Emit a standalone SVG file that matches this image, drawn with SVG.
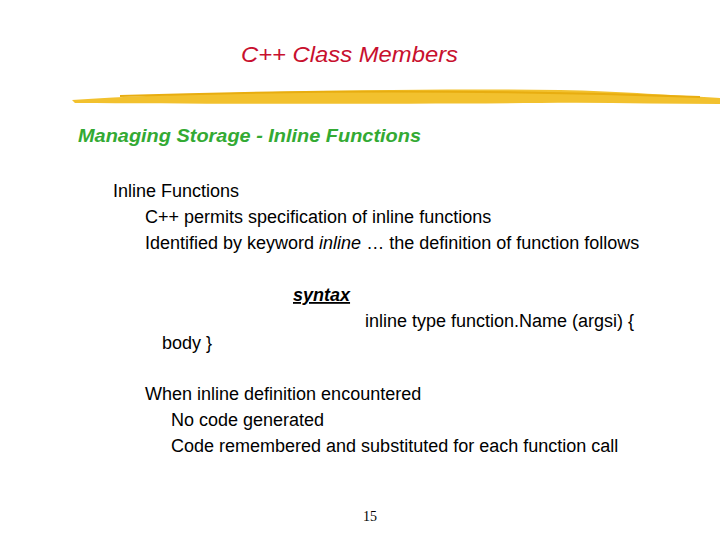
<svg xmlns="http://www.w3.org/2000/svg" width="720" height="540" viewBox="0 0 720 540">
<style>
.b{font-family:"Liberation Sans",Arial,sans-serif;font-size:18px;fill:#000}
</style>
<rect width="720" height="540" fill="#fff"/>
<text x="241" y="62" font-family="Liberation Sans,Arial,sans-serif" font-size="22" font-style="italic" fill="#c8102e" textLength="217" lengthAdjust="spacingAndGlyphs">C++ Class Members</text>
<path d="M72,100 C200,92 400,88 560,90 C620,91 680,96 720,98 L720,104 C660,104 600,102 540,103 C400,104 200,104 75,103 Z" fill="#f2c12e"/>
<path d="M120,96 C300,90 500,90 700,97" stroke="#e8ad10" stroke-width="2" fill="none"/>
<text x="78" y="142" font-family="Liberation Sans,Arial,sans-serif" font-size="19" font-style="italic" font-weight="bold" fill="#33aa33" textLength="343" lengthAdjust="spacingAndGlyphs">Managing Storage - Inline Functions</text>
<text class="b" x="113" y="197">Inline Functions</text>
<text class="b" x="145" y="223">C++ permits specification of inline functions</text>
<text class="b" x="145" y="249">Identified by keyword <tspan font-style="italic">inline</tspan> … the definition of function follows</text>
<text class="b" x="293" y="301" font-style="italic" font-weight="bold" text-decoration="underline">syntax</text>
<text class="b" x="365" y="327">inline type function.Name (argsi) {</text>
<text class="b" x="162" y="349">body }</text>
<text class="b" x="145" y="400">When inline definition encountered</text>
<text class="b" x="171" y="426">No code generated</text>
<text class="b" x="171" y="452">Code remembered and substituted for each function call</text>
<text x="370" y="521" text-anchor="middle" font-family="Liberation Serif,serif" font-size="14">15</text>
</svg>
